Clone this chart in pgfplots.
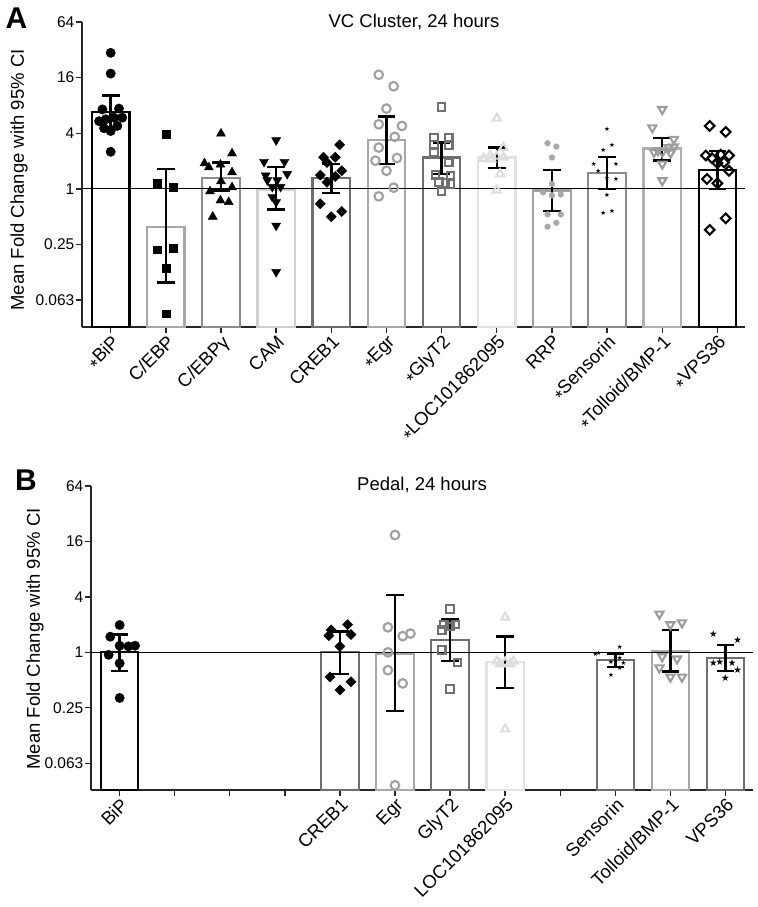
\documentclass[border=0pt]{standalone}
\usepackage{pgfplots}
\pgfplotsset{compat=1.18}
\usepackage{fontspec}
\setmainfont{Liberation Sans}
\newfontfamily\starfont{DejaVu Sans}
\newcommand{\as}{\raisebox{-0.45ex}{*}}
\definecolor{gA}{HTML}{A8A8A8}
\definecolor{gB}{HTML}{8C8C8C}
\definecolor{gC}{HTML}{D0D0D0}
\definecolor{gD}{HTML}{6E6E6E}
\definecolor{gE}{HTML}{E2E2E2}
\definecolor{gF}{HTML}{A0A0A0}
\definecolor{gG}{HTML}{B0B0B0}
\definecolor{mO}{HTML}{A0A0A0}
\definecolor{mS}{HTML}{707070}
\definecolor{mT}{HTML}{DDDDDD}
\definecolor{mV}{HTML}{9C9C9C}
\pgfplotsset{
 myBar/.style={ybar, bar width=0.68, bar shift=0pt, fill=none, line width=2.2bp, draw=#1},
 myWh/.style={black, line width=2.4bp, no marks, unbounded coords=jump},
 myOne/.style={black, line width=0.9bp, no marks},
 mFC/.style={only marks, mark=*, mark size=4.7bp, black},
 mFS/.style={only marks, mark=square*, mark size=3.9bp, black},
 mFT/.style={only marks, mark=triangle*, mark size=5.2bp, black},
 mFD/.style={only marks, mark=triangle*, mark size=5.2bp, black, mark options={rotate=180}},
 mFDI/.style={only marks, mark=square*, mark size=3.6bp, black, mark options={rotate=45}},
 mOC/.style={only marks, mark=o, mark size=4.3bp, mO, mark options={line width=2.1bp}},
 mOS/.style={only marks, mark=square, mark size=3.7bp, mS, mark options={line width=2.1bp}},
 mOT/.style={only marks, mark=triangle, mark size=4.7bp, mT, mark options={line width=2.1bp}},
 mOD/.style={only marks, mark=triangle, mark size=4.7bp, mV, mark options={line width=2.1bp, rotate=180}},
 mODI/.style={only marks, mark=square, mark size=3.4bp, black, mark options={line width=2.1bp, rotate=45}},
 mSD/.style={only marks, mark=*, mark size=2.9bp, gA},
 mST/.style={only marks, mark=text, text mark={\starfont\fontsize{#1}{#1}\selectfont ★}, black},
}
\begin{document}
\begin{tikzpicture}[x=1bp,y=1bp]
\useasboundingbox (0,0) rectangle (758,-907);
% ---------------- Panel A ----------------
\begin{axis}[scale only axis, at={(82bp,-327bp)}, anchor=south west, width=663bp, height=305bp,
  ymode=log, log basis y=2, ymin=0.032, ymax=64,
  log origin y=infty,
  xmin=-0.52, xmax=11.5,
  axis x line*=bottom, axis y line*=left,
  axis line style={line width=1.6bp, black!85},
  ytick={0.0625,0.25,1,4,16,64}, yticklabels={0.063,0.25,1,4,16,64},
  xtick={0,1,2,3,4,5,6,7,8,9,10,11},
  tick style={line width=1.4bp, black!85},
  major tick length=6bp,
  tick align=outside,
  yticklabel style={font=\fontsize{15.5bp}{18bp}\selectfont, inner sep=1.5bp},
  xticklabel style={font=\fontsize{18.5bp}{20bp}\selectfont, rotate=45, anchor=north east, inner sep=0.5bp},
  xticklabels={\as BiP, C/EBP, C/EBPγ, CAM, CREB1, \as Egr, \as GlyT2, \as LOC101862095, RRP, \as Sensorin, \as Tolloid/BMP-1, \as VPS36}]
\addplot[myBar=black] coordinates {(0,6.8)};
\addplot[myBar=gA] coordinates {(1,0.39)};
\addplot[myBar=gB] coordinates {(2,1.31)};
\addplot[myBar=gC] coordinates {(3,0.98)};
\addplot[myBar=gD] coordinates {(4,1.30)};
\addplot[myBar=gA] coordinates {(5,3.36)};
\addplot[myBar=gD] coordinates {(6,2.19)};
\addplot[myBar=gE] coordinates {(7,2.19)};
\addplot[myBar=gF] coordinates {(8,0.96)};
\addplot[myBar=gB] coordinates {(9,1.49)};
\addplot[myBar=gG] coordinates {(10,2.74)};
\addplot[myBar=black] coordinates {(11,1.61)};
\addplot[myOne] coordinates {(-0.52,1) (11.5,1)};
% points
\addplot[mFC] coordinates {(0,29.7) (0,17.7) (-0.15,7.25) (0.15,7.4) (-0.21,5.4) (-0.09,5.66) (0.06,5.9) (0.21,5.9) (-0.12,4.53) (0,4.23) (0.12,4.8) (0,2.52)};
\addplot[mFS] coordinates {(1,3.9) (0.85,1.16) (1.14,1.04) (0.85,0.22) (1.14,0.23) (1,0.138) (1,0.0446)};
\addplot[mFT] coordinates {(2,3.97) (2.2,2.42) (1.7,1.89) (1.78,1.71) (1.99,1.83) (2.2,1.51) (2,1.21) (1.8,0.94) (2.2,1.04) (1.99,0.75) (2.14,0.72) (1.85,0.50)};
\addplot[mFD] coordinates {(3,3.36) (2.78,1.96) (3.15,1.96) (2.81,1.4) (3.2,1.45) (2.84,1.24) (3.02,1.24) (2.93,1.05) (3.08,1.05) (2.93,0.82) (3,0.72) (3,0.40) (3,0.126)};
\addplot[mFDI] coordinates {(4.15,3.0) (3.86,2.2) (4.07,2.2) (3.92,1.93) (4.19,1.57) (3.8,1.41) (4.07,1.36) (3.92,1.18) (3.8,0.69) (4.19,0.57) (4,0.50)};
\addplot[mOC] coordinates {(4.86,17.2) (5.13,12.9) (5,7.4) (4.86,5.0) (5.28,4.8) (5.15,3.66) (4.86,2.8) (5.19,2.16) (4.8,2.02) (5,1.57) (5.13,1.03) (4.86,0.83)};
\addplot[mOS] coordinates {(6,7.7) (5.86,3.6) (6.13,3.6) (5.86,3.0) (6.13,2.95) (5.86,2.48) (6.13,1.93) (5.89,1.42) (6.16,1.39) (5.95,1.18) (6.07,1.16) (6.16,1.13) (6,0.94)};
\addplot[mOT] coordinates {(7,5.8) (7.12,2.8) (6.88,2.3) (7,2.25) (7.12,2.2) (6.76,2.14) (6.9,2.1) (7.06,1.45) (7,0.97)};
\addplot[mSD] coordinates {(7.92,3.12) (8.08,2.87) (8,2.19) (8,1.13) (7.84,0.92) (8,0.85) (8.16,0.87) (7.92,0.53) (8.16,0.53) (7.92,0.39) (8.08,0.43)};
\addplot[mST=6.5bp] coordinates {(9,4.41) (8.93,2.62) (9.09,2.97) (8.76,1.83) (9.16,1.86) (8.84,1.54) (9,1.3) (9.16,1.26) (9,0.85) (8.93,0.55) (9.09,0.57)};
\addplot[mOD] coordinates {(10,7.25) (9.82,4.6) (10.21,3.45) (10.12,2.8) (10.21,2.85) (9.85,2.5) (10,2.5) (10.15,2.45) (9.92,2.6) (10,1.86) (10,1.23)};
\addplot[mODI] coordinates {(10.86,4.8) (11.15,4.13) (10.79,2.3) (11.06,2.35) (11.21,2.3) (10.9,2.15) (11.12,1.93) (11.0,1.9) (11.21,1.57) (10.81,1.28) (11,1.15) (11.15,0.48) (10.86,0.36)};
% 95% CI whiskers and caps (lower, upper)
\addplot[myWh] coordinates {
(0,4.6) (0,10.3) (0,nan)
(1,0.097) (1,1.63) (1,nan)
(2,0.96) (2,1.93) (2,nan)
(3,0.6) (3,1.73) (3,nan)
(4,0.9) (4,1.86) (4,nan)
(5,1.86) (5,6.1) (5,nan)
(6,1.45) (6,3.18) (6,nan)
(7,1.68) (7,2.8) (7,nan)
(8,0.58) (8,1.6) (8,nan)
(9,1.0) (9,2.23) (9,nan)
(10,2.02) (10,3.54) (10,nan)
(11,1.0) (11,2.58)};
\addplot[myWh] coordinates {
(-0.16,4.6) (0.16,4.6) (0,nan) (-0.16,10.3) (0.16,10.3) (0,nan)
(0.84,0.097) (1.16,0.097) (1,nan) (0.84,1.63) (1.16,1.63) (1,nan)
(1.84,0.96) (2.16,0.96) (2,nan) (1.84,1.93) (2.16,1.93) (2,nan)
(2.84,0.6) (3.16,0.6) (3,nan) (2.84,1.73) (3.16,1.73) (3,nan)
(3.84,0.9) (4.16,0.9) (4,nan) (3.84,1.86) (4.16,1.86) (4,nan)
(4.84,1.86) (5.16,1.86) (5,nan) (4.84,6.1) (5.16,6.1) (5,nan)
(5.84,1.45) (6.16,1.45) (6,nan) (5.84,3.18) (6.16,3.18) (6,nan)
(6.84,1.68) (7.16,1.68) (7,nan) (6.84,2.8) (7.16,2.8) (7,nan)
(7.84,0.58) (8.16,0.58) (8,nan) (7.84,1.6) (8.16,1.6) (8,nan)
(8.84,1.0) (9.16,1.0) (9,nan) (8.84,2.23) (9.16,2.23) (9,nan)
(9.84,2.02) (10.16,2.02) (10,nan) (9.84,3.54) (10.16,3.54) (10,nan)
(10.84,1.0) (11.16,1.0) (11,nan) (10.84,2.58) (11.16,2.58)};
\end{axis}
% ---------------- Panel B ----------------
\begin{axis}[scale only axis, at={(91bp,-790bp)}, anchor=south west, width=662bp, height=304bp,
  ymode=log, log basis y=2, ymin=0.032, ymax=64,
  log origin y=infty,
  xmin=-0.52, xmax=11.5,
  axis x line*=bottom, axis y line*=left,
  axis line style={line width=1.6bp, black!85},
  ytick={0.0625,0.25,1,4,16,64}, yticklabels={0.063,0.25,1,4,16,64},
  xtick={0,1,2,3,4,5,6,7,8,9,10,11},
  tick style={line width=1.4bp, black!85},
  major tick length=6bp,
  tick align=outside,
  yticklabel style={font=\fontsize{15.5bp}{18bp}\selectfont, inner sep=1.5bp},
  xticklabel style={font=\fontsize{18.5bp}{20bp}\selectfont, rotate=45, anchor=north east, inner sep=0.5bp},
  xticklabels={BiP, , , , CREB1, Egr, GlyT2, LOC101862095, , Sensorin, Tolloid/BMP-1, VPS36}]
\addplot[myBar=black] coordinates {(0,1.0)};
\addplot[myBar=gD] coordinates {(4,1.0)};
\addplot[myBar=gA] coordinates {(5,0.96)};
\addplot[myBar=gD] coordinates {(6,1.36)};
\addplot[myBar=gE] coordinates {(7,0.78)};
\addplot[myBar=gD] coordinates {(9,0.83)};
\addplot[myBar=gA] coordinates {(10,1.02)};
\addplot[myBar=gD] coordinates {(11,0.87)};
\addplot[myOne] coordinates {(-0.52,1) (11.5,1)};
\addplot[mFC] coordinates {(0,1.98) (-0.17,1.48) (0,1.18) (0.16,1.16) (0.28,1.18) (-0.2,0.94) (0,0.76) (0,0.32)};
\addplot[mFDI] coordinates {(4.14,2.0) (3.84,1.75) (4.2,1.56) (3.8,1.52) (4,1.16) (3.82,0.54) (4.2,0.48) (4,0.39)};
\addplot[mOC] coordinates {(5,18.8) (4.87,1.87) (5.14,1.5) (5.28,1.6) (4.87,1.0) (4.87,0.64) (5.14,0.46) (5,0.036)};
\addplot[mOS] coordinates {(6,2.96) (5.89,2.0) (6.1,2.0) (6,1.9) (5.85,1.75) (5.85,1.06) (6.13,0.78) (6,0.40)};
\addplot[mOT] coordinates {(7,2.4) (6.85,0.8) (7,0.78) (7.15,0.8) (6.91,0.75) (7.09,0.75) (7,0.147)};
\addplot[mST=6.5bp] coordinates {(9.08,1.15) (8.64,0.96) (8.7,0.97) (8.92,0.79) (9.08,0.86) (9.15,0.76) (9.08,0.67) (8.92,0.57)};
\addplot[mOD] coordinates {(9.8,2.61) (10,2.0) (10.21,2.1) (9.85,0.9) (10.12,0.85) (9.8,0.68) (10,0.54) (10.21,0.54)};
\addplot[mST=9.5bp] coordinates {(10.78,1.56) (11.22,1.37) (10.78,0.76) (10.9,0.79) (11.12,0.76) (11.22,0.64) (11,0.53)};
\addplot[myWh] coordinates {
(0,0.63) (0,1.56) (0,nan)
(4,0.58) (4,1.69) (4,nan)
(5,0.23) (5,4.2) (5,nan)
(6,0.8) (6,2.3) (6,nan)
(7,0.41) (7,1.49) (7,nan)
(9,0.69) (9,0.96) (9,nan)
(10,0.62) (10,1.75) (10,nan)
(11,0.63) (11,1.21)};
\addplot[myWh] coordinates {
(-0.16,0.63) (0.16,0.63) (0,nan) (-0.16,1.56) (0.16,1.56) (0,nan)
(3.84,0.58) (4.16,0.58) (4,nan) (3.84,1.69) (4.16,1.69) (4,nan)
(4.84,0.23) (5.16,0.23) (5,nan) (4.84,4.2) (5.16,4.2) (5,nan)
(5.84,0.8) (6.16,0.8) (6,nan) (5.84,2.3) (6.16,2.3) (6,nan)
(6.84,0.41) (7.16,0.41) (7,nan) (6.84,1.49) (7.16,1.49) (7,nan)
(8.84,0.69) (9.16,0.69) (9,nan) (8.84,0.96) (9.16,0.96) (9,nan)
(9.84,0.62) (10.16,0.62) (10,nan) (9.84,1.75) (10.16,1.75) (10,nan)
(10.84,0.63) (11.16,0.63) (11,nan) (10.84,1.21) (11.16,1.21)};
\end{axis}
% ---------------- Text ----------------
\node[font=\bfseries\fontsize{30bp}{30bp}\selectfont] at (16.5,-18) {A};
\node[font=\bfseries\fontsize{30bp}{30bp}\selectfont] at (26,-480) {B};
\node[font=\fontsize{18.5bp}{20bp}\selectfont] at (414,-21.5) {VC Cluster, 24 hours};
\node[font=\fontsize{18.5bp}{20bp}\selectfont] at (422,-485) {Pedal, 24 hours};
\node[rotate=90, font=\fontsize{18.5bp}{20bp}\selectfont] at (19,-180) {Mean Fold Change with 95\% CI};
\node[rotate=90, font=\fontsize{18.5bp}{20bp}\selectfont] at (35,-639) {Mean Fold Change with 95\% CI};
\end{tikzpicture}
\end{document}
